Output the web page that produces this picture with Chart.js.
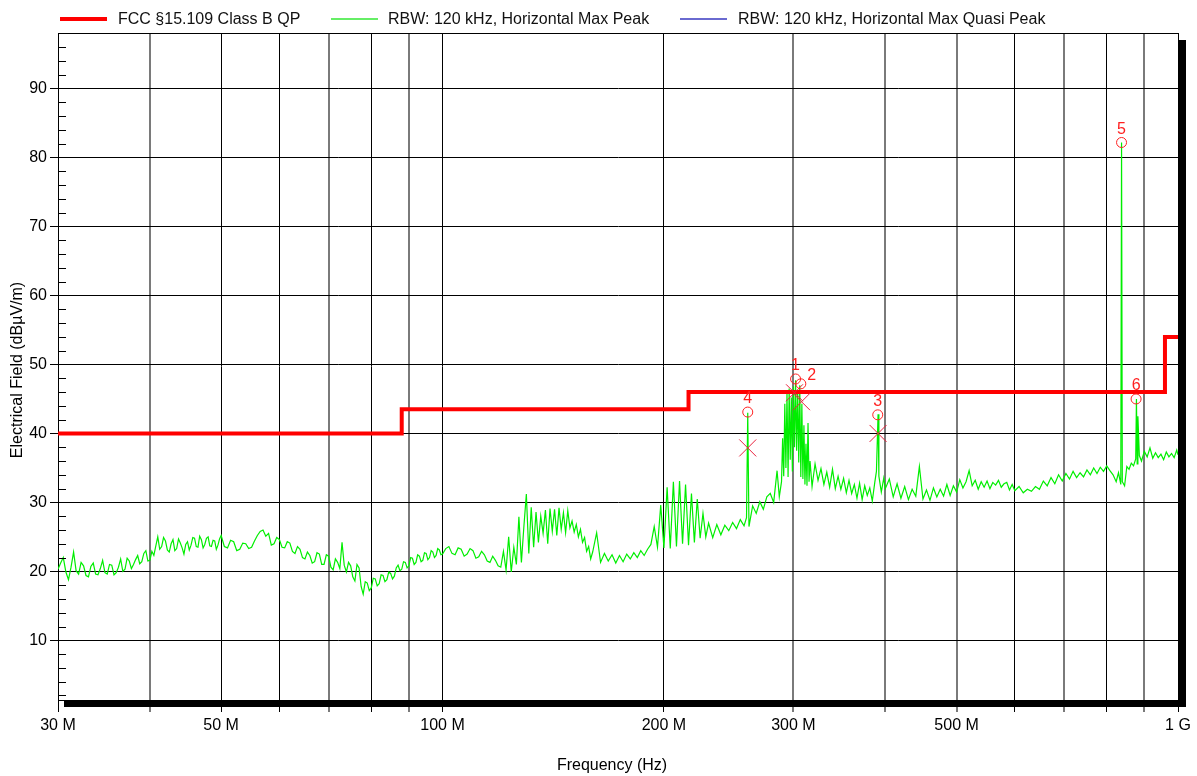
<!DOCTYPE html>
<html>
<head>
<meta charset="utf-8">
<script src="https://cdn.jsdelivr.net/npm/chart.js@4/dist/chart.umd.min.js"></script>
<style>
  html, body { margin: 0; padding: 0; background: #fff; }
  #wrap { width: 1197px; height: 776px; position: relative; }
</style>
</head>
<body>
<div id="wrap"><canvas id="c"></canvas></div>
<script>
// ---------- DATA ----------
const limitFreqMHz = [30, 88, 88, 216, 216, 960, 960, 1000];
const limitLevel   = [40, 40, 43.5, 43.5, 46, 46, 54, 54];

const peakFreqMHz = [
  30,30.25,30.5,30.75,31,31.25,31.5,31.75,32,32.25,32.5,32.75,33,33.25,33.5,33.75,34,34.25,34.5,34.75,
  35,35.25,35.5,35.75,36,36.25,36.5,36.75,37,37.25,37.5,37.75,38,38.25,38.5,38.75,39,39.25,39.5,39.75,
  40,40.25,40.5,40.75,41,41.25,41.5,41.75,42,42.25,42.5,42.75,43,43.25,43.5,43.75,44,44.25,44.5,44.75,
  45,45.25,45.5,45.75,46,46.25,46.5,46.75,47,47.25,47.5,47.75,48,48.25,48.5,48.75,49,49.25,49.5,49.75,50,
  50.5,51,51.5,52,52.5,53,53.5,54,54.5,55,55.5,56,56.5,57,57.5,58,58.5,59,59.5,60,
  60.5,61,61.5,62,62.5,63,63.5,64,64.5,65,65.5,66,66.5,67,67.5,68,68.5,69,69.5,70,
  70.5,71,71.5,72,72.5,73,73.5,74,74.5,75,75.5,76,76.5,77,77.5,78,78.5,79,79.5,80,
  80.5,81,81.5,82,82.5,83,83.5,84,84.5,85,85.5,86,86.5,87,87.5,88,88.5,89,89.5,90,
  90.5,91,91.5,92,92.5,93,93.5,94,94.5,95,95.5,96,96.5,97,97.5,98,98.5,99,99.5,100,
  101,102,103,104,105,106,107,108,109,110,111,112,113,114,115,116,117,118,119,120,
  121,122,123,124,125,126,127,128,129,130,131,132,133,134,135,136,137,138,139,140,
  141,142,143,144,145,146,147,148,149,150,151,152,153,154,155,156,157,158,159,160,
  162,164,166,168,170,172,174,176,178,180,182,184,186,188,190,192,194,196,198,200,
  202,204,206,208,210,212,214,216,218,220,222,224,226,228,230,
  233,236,239,242,245,248,251,254,257,259,260,261,264,267,270,273,276,279,282,285,287,289,
  290,291,292,293,294,295,296,297,298,299,300,301,302,303,304,305,306,307,308,309,310,311,312,313,314,315,316,318,
  321,324,327,330,333,336,339,342,345,348,351,354,357,360,363,366,369,372,375,378,381,384,387,389,391,392,395,398,
  400,405,410,415,420,425,430,435,440,445,450,455,460,465,470,475,480,485,490,495,500,
  505,510,515,520,525,530,535,540,545,550,555,560,565,570,575,580,585,590,595,600,
  608,616,624,632,640,648,656,664,672,680,688,696,704,712,720,728,736,744,752,760,
  768,776,784,792,800,808,816,824,830,836,838,840,846,852,858,864,870,876,878,880,882,
  886,892,900,908,916,924,932,940,948,956,964,972,980,988,996,1000
];
const peakLevel = [
  20.3,21.2,22.0,19.9,18.8,20.6,22.8,20.1,19.6,21.3,20.8,19.4,19.2,20.7,21.2,19.6,19.5,20.4,21.6,19.8,
  19.6,21.0,20.9,19.5,19.8,20.6,21.8,20.0,20.3,21.9,21.5,20.4,21.0,21.7,22.3,21.1,21.4,22.6,23.0,21.5,
  21.6,22.9,22.3,23.7,25.0,23.2,23.6,24.9,24.4,23.1,22.8,24.0,24.6,23.0,23.3,24.7,24.1,23.4,22.5,23.9,
  24.3,23.1,23.8,24.9,24.8,23.6,23.5,25.1,24.6,23.4,23.9,24.8,25.0,23.7,23.6,24.5,24.4,23.2,23.8,24.7,25.2,
  23.6,23.4,24.5,24.3,23.0,23.2,24.1,24.0,23.3,23.5,24.4,25.2,25.8,26.0,25.1,25.5,23.8,24.0,24.9,24.6,
  23.5,23.4,24.3,24.1,22.9,22.6,23.6,23.2,22.0,21.8,22.8,22.3,21.2,21.4,22.7,22.5,21.0,21.0,22.4,22.2,
  20.6,20.2,21.8,21.3,20.4,24.2,20.9,19.9,21.3,20.8,19.2,18.6,21.0,20.5,17.8,16.7,18.5,18.3,17.2,17.6,
  19.0,18.9,17.9,18.2,19.5,19.4,18.5,18.8,19.9,19.7,18.9,19.3,20.5,20.9,20.1,20.3,21.4,21.3,20.5,20.8,
  22.0,21.9,21.0,21.3,22.4,22.2,21.4,21.6,22.7,22.6,21.7,22.0,23.0,22.8,22.0,22.3,23.3,23.1,22.4,22.5,
  23.3,23.6,22.6,22.4,23.4,23.2,22.2,22.5,23.3,23.0,21.9,22.1,22.9,22.4,21.5,21.3,22.2,21.6,20.8,20.6,
  22.9,20.2,25.0,19.9,23.5,21.0,27.9,21.3,26.5,31.2,22.6,29.3,23.5,28.6,24.2,28.0,25.5,28.9,24.0,29.1,
  25.8,29.0,25.2,29.2,26.1,28.5,25.6,28.8,26.3,27.3,25.7,26.8,25.0,26.1,24.2,24.9,22.9,23.6,21.8,22.8,
  25.6,21.3,22.6,21.5,22.4,21.2,22.3,21.4,22.5,21.8,22.7,22.0,23.0,22.3,23.2,23.9,26.5,23.5,29.6,23.4,
  32.2,23.3,33.0,23.6,33.1,24.0,32.6,23.8,31.3,24.2,30.5,24.8,28.4,25.0,27.0,
  24.9,26.8,25.3,26.7,25.9,27.1,26.2,27.5,26.6,27.8,43.0,26.5,29.5,28.4,30.1,29.0,30.8,31.3,30.0,34.6,30.8,33.0,
  39.3,33.8,44.3,35.0,45.8,33.7,46.5,36.2,45.2,34.5,46.8,38.0,47.7,37.5,46.2,35.8,47.0,33.7,44.3,33.4,41.2,32.6,38.5,32.4,41.5,33.0,36.0,32.3,
  35.6,33.2,34.9,32.6,34.4,32.2,34.8,32.0,33.8,31.9,33.5,31.4,33.2,31.3,32.6,30.6,32.8,30.4,32.4,31.0,32.1,30.2,32.9,34.5,42.8,33.8,31.5,33.5,
  32.0,33.4,30.8,32.7,30.6,32.3,30.4,31.9,30.9,35.2,30.5,31.8,30.3,32.1,30.8,31.9,30.9,32.6,31.0,32.4,31.5,
  33.3,32.1,33.0,34.6,32.4,33.2,31.9,33.0,32.2,33.1,32.0,32.9,32.5,33.2,32.2,32.7,32.9,31.8,32.6,31.7,
  32.3,31.4,31.9,31.6,32.3,31.9,33.1,32.4,33.6,32.7,34.0,33.1,34.2,33.4,34.5,33.6,34.3,33.7,34.7,34.0,
  35.0,34.2,35.1,34.5,35.3,34.6,34.0,33.0,34.3,32.6,82.2,33.0,32.4,35.2,34.8,35.7,35.3,36.3,45.0,35.6,42.5,
  36.8,36.0,37.4,36.6,37.9,36.4,37.2,36.5,37.0,36.2,37.3,36.6,37.1,36.5,37.6,36.9
];

const qpFreqMHz = [260, 301, 307.7, 391];
const qpLevel   = [37.9, 45.9, 44.6, 40.0];

const markerNames   = ['1', '2', '3', '4', '5', '6'];
const markerFreqMHz = [302, 307, 390.6, 260, 838, 877];
const markerLevel   = [47.9, 47.2, 42.7, 43.1, 82.2, 45.0];

const xGridValues  = [30,40,50,60,70,80,90,100,200,300,400,500,600,700,800,900,1000];
const xLabelValues = [30, 50, 100, 200, 300, 500, 1000];
const xLabelTexts  = ['30 M', '50 M', '100 M', '200 M', '300 M', '500 M', '1 G'];
const yTickValues  = [10, 20, 30, 40, 50, 60, 70, 80, 90];

const seriesNames = ['FCC §15.109 Class B QP', 'RBW: 120 kHz, Horizontal Max Peak', 'RBW: 120 kHz, Horizontal Max Quasi Peak'];

// ---------- STYLE ----------
const FONT = "'Liberation Sans', Arial, Helvetica, sans-serif";
Chart.defaults.font.family = FONT;
Chart.defaults.font.size = 16;
Chart.defaults.color = '#000';

const softGrid = new Set([40, 70, 90, 300, 400, 500, 700, 900]);
const pts = (xs, ys) => xs.map((x, i) => ({ x: x, y: ys[i] }));

const decor = {
  id: 'decor',
  afterDatasetsDraw(chart) {
    const ctx = chart.ctx;
    const a = chart.chartArea;
    const ys = chart.scales.y;
    ctx.save();
    // top frame line
    ctx.strokeStyle = '#000';
    ctx.lineWidth = 1;
    ctx.beginPath();
    ctx.moveTo(a.left, a.top + 0.5);
    ctx.lineTo(a.right, a.top + 0.5);
    ctx.stroke();
    // minor y ticks (inside)
    ctx.beginPath();
    for (let v = 2; v < 98; v += 2) {
      if (v % 10 === 0) continue;
      const y = Math.round(ys.getPixelForValue(v)) + 0.5;
      ctx.moveTo(a.left, y);
      ctx.lineTo(a.left + 8, y);
    }
    ctx.stroke();
    // shadow bars
    ctx.fillStyle = '#000';
    ctx.fillRect(a.right, a.top + 7, 8, a.bottom - a.top);
    ctx.fillRect(a.left + 6, a.bottom, a.right - a.left + 2, 7);

    // marker labels
    const meta = chart.getDatasetMeta(3);
    ctx.fillStyle = '#ff2020';
    ctx.font = '16px ' + FONT;
    ctx.textAlign = 'center';
    ctx.textBaseline = 'middle';
    const shift = { '2': [11, -8] };
    meta.data.forEach((el, i) => {
      const name = markerNames[i];
      const s = shift[name] || [0, -13];
      ctx.fillText(name, el.x + s[0], el.y + s[1]);
    });

    // axis titles
    ctx.fillStyle = '#000';
    ctx.textAlign = 'center';
    ctx.textBaseline = 'middle';
    ctx.fillText('Frequency (Hz)', 612, 766);
    ctx.save();
    ctx.translate(18, 370);
    ctx.rotate(-Math.PI / 2);
    ctx.fillText('Electrical Field (dBµV/m)', 0, 0);
    ctx.restore();

    // legend
    const items = [
      { x1: 60, x2: 107, tx: 118, color: '#ff0000', w: 4 },
      { x1: 331, x2: 378, tx: 388, color: '#66ee66', w: 2 },
      { x1: 680, x2: 727, tx: 738, color: '#6a6ad0', w: 2 }
    ];
    ctx.textAlign = 'left';
    items.forEach((it, i) => {
      ctx.strokeStyle = it.color;
      ctx.lineWidth = it.w;
      ctx.beginPath();
      ctx.moveTo(it.x1, 19);
      ctx.lineTo(it.x2, 19);
      ctx.stroke();
      ctx.fillStyle = '#111';
      ctx.fillText(seriesNames[i], it.tx, 19.5);
    });
    ctx.restore();
  }
};

new Chart(document.getElementById('c'), {
  type: 'line',
  data: {
    datasets: [
      {
        label: seriesNames[1],
        data: pts(peakFreqMHz, peakLevel),
        borderColor: '#00ee00',
        borderWidth: 1.2,
        pointRadius: 0,
        tension: 0,
        order: 4
      },
      {
        label: seriesNames[0],
        data: pts(limitFreqMHz, limitLevel),
        borderColor: '#ff0000',
        borderWidth: 4,
        borderJoinStyle: 'miter',
        pointRadius: 0,
        tension: 0,
        order: 3
      },
      {
        label: seriesNames[2],
        data: pts(qpFreqMHz, qpLevel),
        showLine: false,
        pointStyle: 'crossRot',
        pointRadius: 12,
        pointBorderColor: '#e8203c',
        pointBorderWidth: 1,
        borderColor: '#6a6ad0',
        order: 2
      },
      {
        label: 'markers',
        data: pts(markerFreqMHz, markerLevel),
        showLine: false,
        pointStyle: 'circle',
        pointRadius: 5,
        pointBorderColor: '#ff2020',
        pointBackgroundColor: 'rgba(0,0,0,0)',
        pointBorderWidth: 1,
        order: 1
      }
    ]
  },
  options: {
    responsive: true,
    maintainAspectRatio: false,
    animation: false,
    layout: { padding: { top: 33, right: 19, left: 0, bottom: 0 } },
    plugins: { legend: { display: false }, tooltip: { enabled: false }, title: { display: false } },
    scales: {
      x: {
        type: 'logarithmic',
        min: 30,
        max: 1000,
        afterBuildTicks: s => { s.ticks = xGridValues.map(v => ({ value: v })); },
        afterFit: s => { s.height = 76; },
        ticks: {
          autoSkip: false,
          maxRotation: 0,
          padding: 4,
          color: '#000',
          font: { size: 16 },
          callback: v => {
            const i = xLabelValues.indexOf(v);
            return i >= 0 ? xLabelTexts[i] : '';
          }
        },
        grid: {
          color: c => (c.tick && softGrid.has(c.tick.value)) ? '#7a7a7a' : '#000',
          lineWidth: c => (c.tick && softGrid.has(c.tick.value)) ? 2 : 1,
          tickLength: 12,
          drawTicks: true
        },
        border: { display: true, color: '#000', width: 1 }
      },
      y: {
        type: 'linear',
        min: 1.34,
        max: 98.08,
        afterBuildTicks: s => { s.ticks = yTickValues.map(v => ({ value: v })); },
        afterFit: s => { s.width = 58; },
        ticks: { padding: 3, color: '#000', font: { size: 16 } },
        grid: { color: '#000', lineWidth: 1, tickLength: 8 },
        border: { display: true, color: '#000', width: 1 }
      }
    }
  },
  plugins: [decor]
});
</script>
</body>
</html>
